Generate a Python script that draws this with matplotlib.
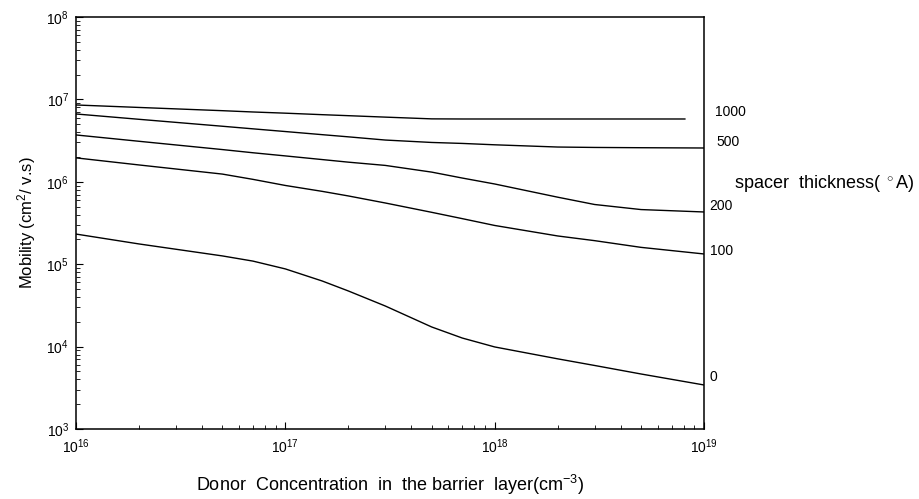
import matplotlib.pyplot as plt
import numpy as np

plt.rcParams['font.family'] = ['Liberation Sans', 'DejaVu Sans']
plt.rcParams['mathtext.fontset'] = 'custom'
plt.rcParams['mathtext.rm'] = 'Liberation Sans'
plt.rcParams['mathtext.it'] = 'Liberation Sans:italic'

# donor concentration in the barrier layer (cm^-3)
conc = [1e16, 2e16, 5e16, 7e16, 1e17, 1.5e17, 2e17, 3e17, 5e17, 7e17, 1e18, 2e18, 3e18, 5e18, 1e19]
conc_1000 = [1e16, 2e16, 5e16, 7e16, 1e17, 1.5e17, 2e17, 3e17, 5e17, 7e17, 1e18, 2e18, 3e18, 5e18, 8.1e18]

# mobility (cm^2/V.s) for each spacer thickness
mob_1000 = [8.55e6, 7.98e6, 7.29e6, 7.03e6, 6.80e6, 6.52e6, 6.34e6, 6.09e6, 5.80e6, 5.78e6,
            5.78e6, 5.78e6, 5.78e6, 5.78e6, 5.78e6]
mob_500 = [6.65e6, 5.73e6, 4.72e6, 4.39e6, 4.07e6, 3.73e6, 3.51e6, 3.21e6, 3.00e6, 2.92e6,
           2.81e6, 2.64e6, 2.61e6, 2.59e6, 2.57e6]
mob_200 = [3.70e6, 3.10e6, 2.46e6, 2.25e6, 2.06e6, 1.86e6, 1.73e6, 1.58e6, 1.31e6, 1.11e6,
           9.4e5, 6.5e5, 5.3e5, 4.6e5, 4.3e5]
mob_100 = [1.95e6, 1.60e6, 1.24e6, 1.07e6, 9.02e5, 7.65e5, 6.73e5, 5.53e5, 4.26e5, 3.57e5,
           2.95e5, 2.20e5, 1.93e5, 1.60e5, 1.33e5]
mob_0 = [2.32e5, 1.76e5, 1.26e5, 1.09e5, 8.76e4, 6.25e4, 4.73e4, 3.11e4, 1.73e4, 1.27e4,
         9.9e3, 7.1e3, 5.9e3, 4.65e3, 3.42e3]

labels = ['1000', '500', '200', '100', '0']
curves = [(conc_1000, mob_1000), (conc, mob_500), (conc, mob_200), (conc, mob_100), (conc, mob_0)]
# label offsets from the curve end, in points
offsets = [(22, 5), (9, 4), (4, 4), (4, 2), (4, 6)]

fig = plt.figure(figsize=(9.19, 4.99), dpi=100)
ax = fig.add_axes([0.0827, 0.1403, 0.6834, 0.8257])

for (x, y), lab, off in zip(curves, labels, offsets):
    ax.plot(x, y, color='black', lw=1.0)
    ax.annotate(lab, xy=(x[-1], y[-1]), xytext=off, textcoords='offset points',
                fontsize=10, va='center', ha='left', annotation_clip=False)

ax.set_xscale('log')
ax.set_yscale('log')
ax.set_xlim(1e16, 1e19)
ax.set_ylim(1e3, 1e8)

ax.tick_params(which='both', direction='in', top=False, right=False, labelsize=10)
ax.tick_params(axis='y', which='major', length=5, pad=5)
ax.tick_params(axis='y', which='minor', length=3)
ax.tick_params(axis='x', which='major', length=5, pad=6)
ax.tick_params(axis='x', which='minor', length=3)
for s in ax.spines.values():
    s.set_linewidth(1.1)

ax.set_ylabel('Mobility (cm$^2$/ v.s)', fontsize=12, labelpad=6)
ax.set_xlabel('Donor  Concentration  in  the barrier  layer(cm$^{-3}$)', fontsize=13, labelpad=12)

fig.text(0.799, 0.632, 'spacer  thickness( $^\\circ$A)', fontsize=13, va='center', ha='left')

plt.savefig('out.png', dpi=100)
